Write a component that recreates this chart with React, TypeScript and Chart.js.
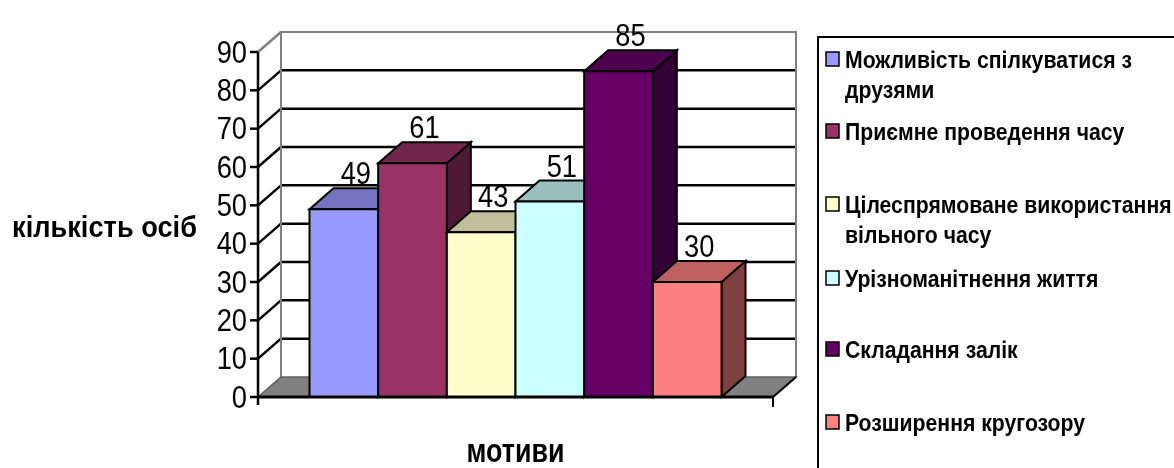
import React, { useEffect, useRef } from "react";
import { Chart, registerables } from "chart.js";
Chart.register(...registerables);

const CATEGORIES = ["мотиви"];
const SERIES_NAMES = [
  "Можливість спілкуватися з друзями",
  "Приємне проведення часу",
  "Цілеспрямоване використання вільного часу",
  "Урізноманітнення життя",
  "Складання залік",
  "Розширення кругозору",
];
const LEGEND_LINES = [
  ["Можливість спілкуватися з", "друзями"],
  ["Приємне проведення часу"],
  ["Цілеспрямоване використання", "вільного часу"],
  ["Урізноманітнення життя"],
  ["Складання залік"],
  ["Розширення кругозору"],
];
const VALUES = [49, 61, 43, 51, 85, 30];
const Y_TICKS = [0, 10, 20, 30, 40, 50, 60, 70, 80, 90];
const Y_TITLE = "кількість осіб";
const X_TITLE = "мотиви";
const FRONT_COLORS = ["#9999FF", "#993366", "#FFFFCC", "#CCFFFF", "#660066", "#FF8080"];

function shade(hex: string, f: number): string {
  const n = parseInt(hex.slice(1), 16);
  const r = Math.round(((n >> 16) & 255) * f);
  const g = Math.round(((n >> 8) & 255) * f);
  const b = Math.round((n & 255) * f);
  return `rgb(${r},${g},${b})`;
}

const FONT = '"Liberation Sans", Arial, sans-serif';
const WALL_DX = 23;
const WALL_DY = -20;
const BAR_DX = 24;
const BAR_DY = -21;
const NUM_SX = 0.88;

function poly(ctx: CanvasRenderingContext2D, pts: number[][], fill: string, stroke: string, lw: number) {
  ctx.beginPath();
  ctx.moveTo(pts[0][0], pts[0][1]);
  for (let i = 1; i < pts.length; i++) ctx.lineTo(pts[i][0], pts[i][1]);
  ctx.closePath();
  ctx.fillStyle = fill;
  ctx.fill();
  ctx.lineWidth = lw;
  ctx.strokeStyle = stroke;
  ctx.lineJoin = "miter";
  ctx.stroke();
}

function line(ctx: CanvasRenderingContext2D, x1: number, y1: number, x2: number, y2: number, color: string, lw: number) {
  ctx.beginPath();
  ctx.moveTo(x1, y1);
  ctx.lineTo(x2, y2);
  ctx.strokeStyle = color;
  ctx.lineWidth = lw;
  ctx.stroke();
}

function fitText(ctx: CanvasRenderingContext2D, text: string, x: number, y: number, sx: number) {
  ctx.save();
  ctx.translate(x, y);
  ctx.scale(sx, 1);
  ctx.fillText(text, 0, 0);
  ctx.restore();
}

const draw3d = {
  id: "draw3d",
  beforeDatasetsDraw(chart: any) {
    const ctx: CanvasRenderingContext2D = chart.ctx;
    const area = chart.chartArea;
    const ys = chart.scales.y;
    const L = area.left, R = area.right, T = area.top, B = area.bottom;
    ctx.save();
    ctx.lineCap = "butt";

    // back wall
    ctx.fillStyle = "#FFFFFF";
    ctx.fillRect(L + WALL_DX, T + WALL_DY, R - L, B - T);
    Y_TICKS.forEach((v) => {
      if (v === 0 || v === 90) return;
      const y = ys.getPixelForValue(v) + WALL_DY;
      line(ctx, L + WALL_DX, y, R + WALL_DX, y, "#000000", 2.5);
    });
    Y_TICKS.forEach((v) => {
      if (v === 0) return;
      const y = ys.getPixelForValue(v);
      line(ctx, L, y, L + WALL_DX, y + WALL_DY, v === 90 ? "#808080" : "#000000", 2.5);
    });
    ctx.beginPath();
    ctx.moveTo(L + WALL_DX, B + WALL_DY);
    ctx.lineTo(L + WALL_DX, T + WALL_DY);
    ctx.lineTo(R + WALL_DX, T + WALL_DY);
    ctx.lineTo(R + WALL_DX, B + WALL_DY);
    ctx.strokeStyle = "#808080";
    ctx.lineWidth = 2;
    ctx.stroke();

    // floor
    poly(ctx, [[L, B], [L + WALL_DX, B + WALL_DY], [R + WALL_DX, B + WALL_DY], [R, B]], "#808080", "#606060", 1.5);
    line(ctx, R, B, R + WALL_DX, B + WALL_DY, "#000000", 2);

    // bars
    chart.data.datasets.forEach((ds: any, i: number) => {
      const meta = chart.getDatasetMeta(i);
      meta.data.forEach((el: any) => {
        const p = el.getProps(["x", "y", "base", "width"], true);
        const xl = p.x - p.width / 2;
        const xr = p.x + p.width / 2;
        const top = p.y;
        const base = p.base;
        const c = ds.backgroundColor as string;
        poly(ctx, [[xr, top], [xr + BAR_DX, top + BAR_DY], [xr + BAR_DX, base + BAR_DY], [xr, base]], shade(c, 0.5), "#000000", 2);
        poly(ctx, [[xl, top], [xl + BAR_DX, top + BAR_DY], [xr + BAR_DX, top + BAR_DY], [xr, top]], shade(c, 0.75), "#000000", 2);
        poly(ctx, [[xl, top], [xr, top], [xr, base], [xl, base]], c, "#000000", 2);
      });
    });

    // front axes
    line(ctx, L, T, L, B + 8, "#000000", 2.5);
    line(ctx, L - 1, B, R, B, "#000000", 3);
    line(ctx, R, B, R, B + 10, "#000000", 2);
    Y_TICKS.forEach((v) => {
      const y = ys.getPixelForValue(v);
      line(ctx, L - 8, y, L, y, "#000000", 2.5);
    });

    // y tick labels
    ctx.fillStyle = "#000000";
    ctx.font = `31px ${FONT}`;
    ctx.textAlign = "right";
    ctx.textBaseline = "middle";
    Y_TICKS.forEach((v) => {
      const y = ys.getPixelForValue(v);
      fitText(ctx, String(v), L - 11, y + 2, NUM_SX);
    });

    // data labels
    ctx.textAlign = "center";
    ctx.textBaseline = "alphabetic";
    chart.data.datasets.forEach((ds: any, i: number) => {
      const meta = chart.getDatasetMeta(i);
      meta.data.forEach((el: any, j: number) => {
        const p = el.getProps(["x", "y"], true);
        fitText(ctx, String(ds.data[j]), p.x + BAR_DX / 2, p.y - 25, NUM_SX);
      });
    });

    // titles
    ctx.textAlign = "left";
    ctx.font = `bold 29px ${FONT}`;
    const yw = ctx.measureText(Y_TITLE).width;
    fitText(ctx, Y_TITLE, 12, 237, 185 / yw);
    ctx.font = `bold 34px ${FONT}`;
    const xw = ctx.measureText(X_TITLE).width;
    fitText(ctx, X_TITLE, (L + R) / 2 - 49, 462, 98 / xw);

    // legend
    ctx.strokeStyle = "#000000";
    ctx.lineWidth = 2;
    ctx.strokeRect(818, 37, 500, 500);
    ctx.font = `bold 24px ${FONT}`;
    const lsx = 287 / ctx.measureText(LEGEND_LINES[0][0]).width;
    const baselines = [68, 140, 213, 287, 358, 431];
    LEGEND_LINES.forEach((lines, i) => {
      const bl = baselines[i];
      ctx.fillStyle = FRONT_COLORS[i];
      ctx.fillRect(826, bl - 16, 13, 14);
      ctx.lineWidth = 1.5;
      ctx.strokeStyle = "#000000";
      ctx.strokeRect(826, bl - 16, 13, 14);
      ctx.fillStyle = "#000000";
      lines.forEach((t, k) => fitText(ctx, t, 845, bl + k * 30, lsx));
    });

    ctx.restore();
    return false;
  },
};

export default function App() {
  const ref = useRef<HTMLCanvasElement | null>(null);
  useEffect(() => {
    document.body.style.margin = "0";
    const canvas = ref.current;
    if (!canvas) return;
    const chart = new Chart(canvas, {
      type: "bar",
      data: {
        labels: CATEGORIES,
        datasets: SERIES_NAMES.map((name, i) => ({
          label: name,
          data: [VALUES[i]],
          backgroundColor: FRONT_COLORS[i],
          borderColor: "#000000",
          borderWidth: 2,
          categoryPercentage: 0.8,
          barPercentage: 1.0,
        })),
      },
      options: {
        responsive: false,
        animation: false,
        devicePixelRatio: 1,
        layout: { padding: { left: 258, right: 401, top: 52, bottom: 71 } },
        scales: {
          x: { display: false },
          y: { display: false, min: 0, max: 90, ticks: { stepSize: 10 } },
        },
        plugins: {
          legend: { display: false },
          tooltip: { enabled: false },
        },
      },
      plugins: [draw3d],
    });
    return () => chart.destroy();
  }, []);
  return (
    <div style={{ width: 1174, height: 468, background: "#FFFFFF" }}>
      <canvas ref={ref} width={1174} height={468} style={{ display: "block" }} />
    </div>
  );
}
